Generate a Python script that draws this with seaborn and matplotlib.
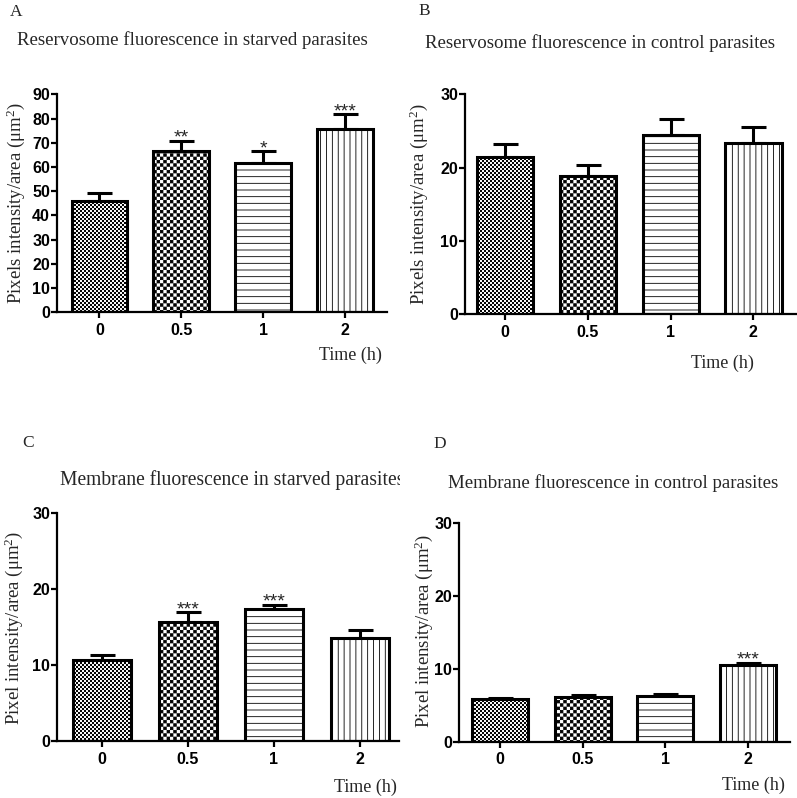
import warnings
warnings.filterwarnings('ignore')
import numpy as np
import pandas as pd
import matplotlib
matplotlib.use('Agg')
import matplotlib.pyplot as plt
import matplotlib.hatch as mhatch
from matplotlib.path import Path
from matplotlib.transforms import Bbox, TransformedBbox
import seaborn as sns

# ---------------- data ----------------
times = ['0', '0.5', '1', '2']

res_starved = [46.0, 66.7, 61.5, 75.7]
res_starved_err = [3.1, 4.2, 5.0, 6.0]
res_starved_sig = ['', '**', '*', '***']

res_control = [21.5, 18.9, 24.5, 23.4]
res_control_err = [1.7, 1.5, 2.1, 2.1]
res_control_sig = ['', '', '', '']

mem_starved = [10.7, 15.6, 17.3, 13.6]
mem_starved_err = [0.6, 1.3, 0.6, 1.0]
mem_starved_sig = ['', '***', '***', '']

mem_control = [5.8, 6.1, 6.2, 10.5]
mem_control_err = [0.2, 0.3, 0.3, 0.3]
mem_control_sig = ['', '', '', '***']

titles = ['Reservosome fluorescence in starved parasites',
          'Reservosome fluorescence in control parasites',
          'Membrane fluorescence in starved parasites',
          'Membrane fluorescence in control parasites']
ylabels = ['Pixels intensity/area (\u03bcm$\\mathregular{^2}$)',
           'Pixels intensity/area (\u03bcm$\\mathregular{^2}$)',
           'Pixel intensity/area (\u03bcm$\\mathregular{^2}$)',
           'Pixel intensity/area (\u03bcm$\\mathregular{^2}$)']
letters = ['A', 'B', 'C', 'D']
xlabel = 'Time (h)'


# ---------------- custom hatch patterns ----------------
class _Checker(mhatch.HatchPatternBase):
    char = 'c'
    cells = 50
    shrink = 0.004

    def __init__(self, hatch, density):
        self.n = self.cells if hatch.count(self.char) else 0
        self.num_vertices = (self.n * self.n // 2) * 5

    def set_vertices_and_codes(self, vertices, codes):
        n = self.n
        s = 1.0 / n
        d = self.shrink
        k = 0
        for i in range(n):
            for j in range(n):
                if (i + j) % 2 == 0:
                    x0, y0 = i * s + d, j * s + d
                    x1, y1 = (i + 1) * s - d, (j + 1) * s - d
                    vertices[k:k + 5] = [[x0, y0], [x1, y0], [x1, y1], [x0, y1], [x0, y0]]
                    codes[k:k + 5] = [Path.MOVETO, Path.LINETO, Path.LINETO,
                                      Path.LINETO, Path.CLOSEPOLY]
                    k += 5


class _CheckerFine(_Checker):
    char = 'c'
    cells = 50


class _CheckerCoarse(_Checker):
    char = 'k'
    cells = 30


class _HLines(mhatch.HatchPatternBase):
    char = 'h'
    per = 15

    def __init__(self, hatch, density):
        self.num_lines = hatch.count(self.char) * self.per
        self.num_vertices = self.num_lines * 2

    def set_vertices_and_codes(self, vertices, codes):
        steps, step = np.linspace(0.0, 1.0, self.num_lines, False, retstep=True)
        steps += step / 2.0
        vertices[0::2, 0] = 0.0
        vertices[0::2, 1] = steps
        vertices[1::2, 0] = 1.0
        vertices[1::2, 1] = steps
        codes[0::2] = Path.MOVETO
        codes[1::2] = Path.LINETO


class _VLines(mhatch.HatchPatternBase):
    char = 'v'
    per = 17

    def __init__(self, hatch, density):
        self.num_lines = hatch.count(self.char) * self.per
        self.num_vertices = self.num_lines * 2

    def set_vertices_and_codes(self, vertices, codes):
        steps, step = np.linspace(0.0, 1.0, self.num_lines, False, retstep=True)
        steps += step / 2.0
        vertices[0::2, 0] = steps
        vertices[0::2, 1] = 0.0
        vertices[1::2, 0] = steps
        vertices[1::2, 1] = 1.0
        codes[0::2] = Path.MOVETO
        codes[1::2] = Path.LINETO


mhatch._hatch_types.extend([_CheckerFine, _CheckerCoarse, _HLines, _VLines])
hatches = ['c', 'k', 'h', 'v']

# ---------------- style ----------------
sns.set_style('ticks')
plt.rcParams['font.family'] = ['Liberation Serif', 'DejaVu Serif']
plt.rcParams['hatch.linewidth'] = 0.6
plt.rcParams['mathtext.fontset'] = 'custom'
plt.rcParams['mathtext.rm'] = 'Liberation Serif'

W, H = 797, 798
fig = plt.figure(figsize=(W / 100, H / 100), dpi=100)
fig.patch.set_facecolor('white')

SANS = ['Liberation Sans', 'DejaVu Sans']
SERIF = ['Liberation Serif', 'DejaVu Serif']


def px(x, y):
    return x / W, 1 - y / H


def panel(rect, xlim, vals, errs, sig, ylim, yticks):
    l, b, r, t = rect
    ax = fig.add_axes([l / W, 1 - b / H, (r - l) / W, (b - t) / H])
    df = pd.DataFrame({'Time': times, 'value': vals})
    sns.barplot(data=df, x='Time', y='value', ax=ax, order=times, color='white',
                saturation=1, edgecolor='black', linewidth=2.2, width=0.68,
                errorbar=None, zorder=2)
    for p, h in zip(ax.patches, hatches):
        p.set_hatch(h)
        p.set_edgecolor('black')
    xs = np.arange(len(times))
    ax.errorbar(xs, vals, yerr=[np.zeros(len(vals)), errs], fmt='none',
                ecolor='black', elinewidth=2.2, capsize=9, capthick=2.2, zorder=1)
    for xi, v, e, s in zip(xs, vals, errs, sig):
        if s:
            ax.annotate(s, (xi, v + e), xytext=(0, -1.5), textcoords='offset points',
                        ha='center', va='baseline', fontsize=14, family=SANS)
    ax.set_xlim(*xlim)
    ax.set_ylim(*ylim)
    ax.set_yticks(yticks)
    ax.set_xlabel('')
    ax.set_ylabel('')
    for sp in ['top', 'right']:
        ax.spines[sp].set_visible(False)
    for sp in ['left', 'bottom']:
        ax.spines[sp].set_linewidth(1.6)
        ax.spines[sp].set_color('black')
    ax.tick_params(axis='both', direction='out', length=4.2, width=1.6, color='black')
    ax.tick_params(axis='y', pad=0.8)
    ax.tick_params(axis='x', pad=3.5)
    for lab in ax.get_xticklabels() + ax.get_yticklabels():
        lab.set_family(SANS)
        lab.set_fontweight('bold')
        lab.set_fontsize(11.5)
        lab.set_color('black')
    ax.set_facecolor('none')
    return ax


axA = panel((57, 312.3, 387, 94.3), (-0.519, 3.513), res_starved, res_starved_err,
            res_starved_sig, (0, 90), np.arange(0, 91, 10))
axB = panel((465, 314, 798, 94.3), (-0.485, 3.539), res_control, res_control_err,
            res_control_sig, (0, 30), [0, 10, 20, 30])
axC = panel((57, 741, 399, 512.7), (-0.523, 3.454), mem_starved, mem_starved_err,
            mem_starved_sig, (0, 30), [0, 10, 20, 30])
axD = panel((459, 741.7, 790, 522.7), (-0.496, 3.508), mem_control, mem_control_err,
            mem_control_sig, (0, 30), [0, 10, 20, 30])

# ---------------- texts ----------------
letter_pos = [(10, 12), (418, 11), (22, 443), (433, 444)]
for (x, y), s in zip(letter_pos, letters):
    fig.text(*px(x, y), s, ha='left', va='center', fontsize=12.5, family=SERIF)

title_pos = [(17, 45), (425, 48), (60, 485), (448, 488)]
title_sizes = [13.6, 13.6, 14.1, 13.6]
for i, ((x, y), s) in enumerate(zip(title_pos, titles)):
    t = fig.text(*px(x, y), s, ha='left', va='baseline', fontsize=title_sizes[i],
                 family=SERIF)
    if i == 2:
        t.set_clip_box(TransformedBbox(Bbox([[0, 0], [400 / W, 1]]), fig.transFigure))
        t.set_clip_on(True)

ylab_pos = [(16, 203), (419, 204), (14, 628), (424, 631)]
for (x, y), s in zip(ylab_pos, ylabels):
    fig.text(*px(x, y), s, ha='center', va='center', rotation=90, fontsize=13.5,
             family=SERIF)

xlab_pos = [(350, 360), (722, 368), (365, 792), (753, 790)]
for (x, y) in xlab_pos:
    fig.text(*px(x, y), xlabel, ha='center', va='baseline', fontsize=13, family=SERIF)

fig.savefig('out.png', dpi=100, facecolor='white')
